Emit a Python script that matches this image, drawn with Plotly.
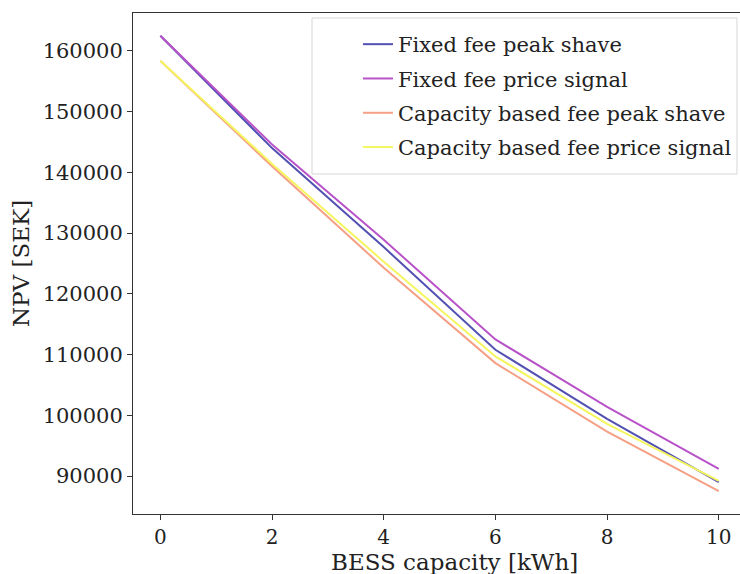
import plotly.graph_objects as go

bess_capacity = [0, 2, 4, 6, 8, 10]
fixed_peak_shave = [162500, 144000, 127700, 110800, 99400, 89000]
fixed_price_signal = [162500, 144600, 128900, 112500, 101400, 91200]
capacity_peak_shave = [158400, 141000, 124300, 108600, 97300, 87500]
capacity_price_signal = [158400, 141400, 125300, 109700, 98600, 89200]

series_names = [
    "Fixed fee peak shave",
    "Fixed fee price signal",
    "Capacity based fee peak shave",
    "Capacity based fee price signal",
]
series_values = [fixed_peak_shave, fixed_price_signal, capacity_peak_shave, capacity_price_signal]
series_colors = ["rgb(82,80,178)", "rgb(184,82,200)", "rgb(245,160,132)", "rgb(245,245,95)"]

y_ticks = [90000, 100000, 110000, 120000, 130000, 140000, 150000, 160000]
x_ticks = [0, 2, 4, 6, 8, 10]

FONT = "DejaVu Serif"

fig = go.Figure()
for i, (name, vals, col) in enumerate(zip(series_names, series_values, series_colors)):
    fig.add_trace(go.Scatter(
        x=bess_capacity, y=vals, mode="lines", name=name,
        line=dict(color=col, width=2), legendgroup=f"g{i}",
    ))

# legend frame (matplotlib-style box)
fig.add_shape(
    type="rect", xref="paper", yref="paper",
    x0=0.2949, x1=0.995, y0=0.6786, y1=0.990,
    line=dict(color="#d6d6d6", width=1), fillcolor="rgba(255,255,255,0.8)",
    layer="above",
)

fig.add_annotation(
    text="BESS capacity [kWh]", xref="paper", yref="paper",
    x=0.530, y=-0.096, xanchor="center", yanchor="middle", showarrow=False,
    font=dict(family=FONT, size=23, color="#222"),
)

fig.update_layout(
    width=740, height=574,
    margin=dict(l=133, r=0, t=13, b=60),
    paper_bgcolor="white", plot_bgcolor="white",
    font=dict(family=FONT, color="#222", size=21),
    showlegend=True,
    legend=dict(
        x=0.995, y=0.978, xanchor="right", yanchor="top",
        bgcolor="rgba(0,0,0,0)", borderwidth=0,
        font=dict(family=FONT, size=21, color="#222"),
        tracegroupgap=4,
    ),
    xaxis=dict(
        range=[-0.49, 10.38], tickvals=x_ticks, ticktext=[str(v) for v in x_ticks],
        showgrid=False, zeroline=False, showline=True, linecolor="#333", linewidth=1,
        mirror=True, ticks="outside", ticklen=5, tickcolor="#333",
        tickfont=dict(family=FONT, size=20),
    ),
    yaxis=dict(
        range=[83750, 166250], tickvals=y_ticks, ticktext=[str(v) for v in y_ticks],
        showgrid=False, zeroline=False, showline=True, linecolor="#333", linewidth=1,
        ticks="outside", ticklen=5, tickcolor="#333",
        tickfont=dict(family=FONT, size=21),
        title=dict(text="NPV [SEK]", font=dict(family=FONT, size=23), standoff=6),
    ),
)

fig.write_html("out.html")
